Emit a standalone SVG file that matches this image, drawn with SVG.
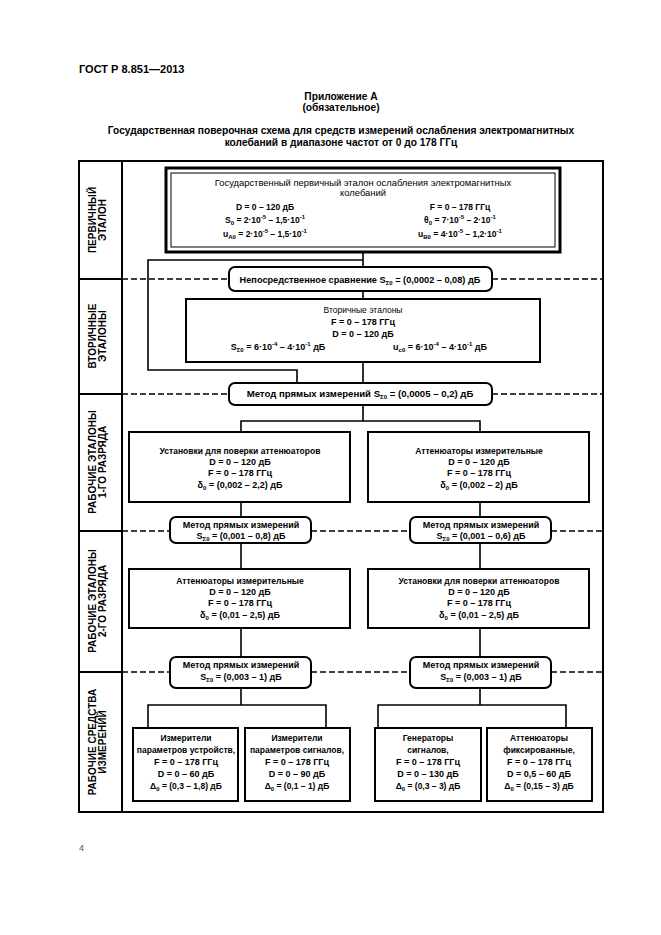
<svg xmlns="http://www.w3.org/2000/svg" width="661" height="935" viewBox="0 0 661 935">
<style>
text{font-family:"Liberation Sans",Arial,sans-serif;font-size:8.5px;fill:#000;text-anchor:middle}
.b{font-weight:bold}
.s{font-size:6px}
.m{font-weight:bold;font-size:9px}
.lbl{font-weight:bold;font-size:10px}
.box{fill:#fff;stroke:#000;stroke-width:2}
.meth{fill:#fff;stroke:#000;stroke-width:2}
.ln{fill:none;stroke:#000;stroke-width:1.6}
.dash{fill:none;stroke:#000;stroke-width:1.6;stroke-dasharray:6 3}
.frame{fill:none;stroke:#000;stroke-width:2}
.ttl{font-weight:bold;font-size:10.2px}
</style>
<rect width="661" height="935" fill="#fff"/>
<g id="header">
<text x="79" y="73" style="text-anchor:start;font-size:11px;font-weight:bold">ГОСТ Р 8.851—2013</text>
<text x="341" y="100" class="ttl">Приложение А</text>
<text x="341" y="111" class="ttl">(обязательное)</text>
<text x="341" y="134" class="ttl">Государственная поверочная схема для средств измерений ослабления электромагнитных</text>
<text x="341" y="146" class="ttl">колебаний в диапазоне частот от 0 до 178 ГГц</text>
</g>
<g id="frame">
<rect x="79" y="161" width="524" height="651" class="frame"/>
<line x1="122" y1="161" x2="122" y2="812" class="frame"/>
<path d="M79 279H122M79 394H122M79 531H122M79 672H122" class="frame"/>
<path d="M122 279H229M492 279H603M122 394H229M492 394H603M122 531H170M311 531H410M551 531H603M122 672H170M311 672H410M551 672H603" class="dash"/>
</g>
<g id="labels">
<text class="lbl" transform="translate(96,220) rotate(-90)">ПЕРВИЧНЫЙ</text>
<text class="lbl" transform="translate(106,220) rotate(-90)">ЭТАЛОН</text>
<text class="lbl" transform="translate(96,336) rotate(-90)">ВТОРИЧНЫЕ</text>
<text class="lbl" transform="translate(106,336) rotate(-90)">ЭТАЛОНЫ</text>
<text class="lbl" transform="translate(96,462) rotate(-90)">РАБОЧИЕ ЭТАЛОНЫ</text>
<text class="lbl" transform="translate(106,462) rotate(-90)">1-ГО РАЗРЯДА</text>
<text class="lbl" transform="translate(96,601) rotate(-90)">РАБОЧИЕ ЭТАЛОНЫ</text>
<text class="lbl" transform="translate(106,601) rotate(-90)">2-ГО РАЗРЯДА</text>
<text class="lbl" transform="translate(96,742) rotate(-90)">РАБОЧИЕ СРЕДСТВА</text>
<text class="lbl" transform="translate(106,742) rotate(-90)">ИЗМЕРЕНИЙ</text>
</g>
<g id="connectors">
<path class="ln" d="M363 252V267M363 260H148V370H297V383M363 291V299M363 362V383"/>
<path class="ln" d="M363 405V421M241 432V421H480V432"/>
<path class="ln" d="M241 502V517M480 502V517M241 543V569M480 543V569M241 628V657M480 628V657"/>
<path class="ln" d="M241 688V705M148 728V705H326V728M480 688V705M378 728V705H566V728"/>
</g>
<g id="primary">
<rect x="166" y="168" width="394" height="84" fill="#fff" stroke="#000" stroke-width="3"/>
<rect x="171" y="173" width="384" height="74" fill="none" stroke="#000" stroke-width="1"/>
<text x="363" y="186" style="font-size:9.4px">Государственный первичный эталон ослабления электромагнитных</text>
<text x="363" y="196" style="font-size:9.4px">колебаний</text>
<text x="265" y="210" class="b">D = 0 – 120 дБ</text>
<text x="265" y="223" class="b">S<tspan class="s" dy="2">0</tspan><tspan dy="-2"> = 2·10</tspan><tspan class="s" dy="-4">-5</tspan><tspan dy="4"> – 1,5·10</tspan><tspan class="s" dy="-4">-1</tspan></text>
<text x="265" y="237" class="b">u<tspan class="s" dy="2">A0</tspan><tspan dy="-2"> = 2·10</tspan><tspan class="s" dy="-4">-5</tspan><tspan dy="4"> – 1,5·10</tspan><tspan class="s" dy="-4">-1</tspan></text>
<text x="460" y="210" class="b">F = 0 – 178 ГГц</text>
<text x="460" y="223" class="b">θ<tspan class="s" dy="2">0</tspan><tspan dy="-2"> = 7·10</tspan><tspan class="s" dy="-4">-5</tspan><tspan dy="4"> – 2·10</tspan><tspan class="s" dy="-4">-1</tspan></text>
<text x="460" y="237" class="b">u<tspan class="s" dy="2">B0</tspan><tspan dy="-2"> = 4·10</tspan><tspan class="s" dy="-4">-5</tspan><tspan dy="4"> – 1,2·10</tspan><tspan class="s" dy="-4">-1</tspan></text>
</g>
<g id="method1">
<rect x="229" y="267" width="263" height="24" rx="6" class="meth"/>
<text x="360" y="283" class="b" style="font-size:9.2px">Непосредственное сравнение S<tspan class="s" dy="2">Σ0</tspan><tspan dy="-2"> = (0,0002 – 0,08) дБ</tspan></text>
</g>
<g id="secondary">
<rect x="186" y="299" width="354" height="63" class="box"/>
<text x="363" y="313">Вторичные эталоны</text>
<text x="363" y="325" class="m">F = 0 – 178 ГГц</text>
<text x="363" y="337" class="m">D = 0 – 120 дБ</text>
<text x="278" y="350" class="m">S<tspan class="s" dy="2">Σ0</tspan><tspan dy="-2"> = 6·10</tspan><tspan class="s" dy="-4">-4</tspan><tspan dy="4"> – 4·10</tspan><tspan class="s" dy="-4">-1</tspan><tspan dy="4"> дБ</tspan></text>
<text x="440" y="350" class="m">u<tspan class="s" dy="2">c0</tspan><tspan dy="-2"> = 6·10</tspan><tspan class="s" dy="-4">-4</tspan><tspan dy="4"> – 4·10</tspan><tspan class="s" dy="-4">-1</tspan><tspan dy="4"> дБ</tspan></text>
</g>
<g id="method2">
<rect x="229" y="383" width="263" height="22" rx="6" class="meth"/>
<text x="360" y="397" class="b" style="font-size:9.6px">Метод прямых измерений S<tspan class="s" dy="2">Σ0</tspan><tspan dy="-2"> = (0,0005 – 0,2) дБ</tspan></text>
</g>
<g id="w1-left">
<rect x="129" y="432" width="221" height="70" class="box"/>
<text x="240" y="454" class="b">Установки для поверки аттенюаторов</text>
<text x="240" y="465" class="m">D = 0 – 120 дБ</text>
<text x="240" y="476" class="m">F = 0 – 178 ГГц</text>
<text x="240" y="488" class="m">δ<tspan class="s" dy="2">0</tspan><tspan dy="-2"> = (0,002 – 2,2) дБ</tspan></text>
</g>
<g id="w1-right">
<rect x="368" y="432" width="221" height="70" class="box"/>
<text x="479" y="454" class="b">Аттенюаторы измерительные</text>
<text x="479" y="465" class="m">D = 0 – 120 дБ</text>
<text x="479" y="476" class="m">F = 0 – 178 ГГц</text>
<text x="479" y="488" class="m">δ<tspan class="s" dy="2">0</tspan><tspan dy="-2"> = (0,002 – 2) дБ</tspan></text>
</g>
<g id="method3-left">
<rect x="170" y="517" width="141" height="26" rx="6" class="meth"/>
<text x="241" y="528" class="m">Метод прямых измерений</text>
<text x="241" y="539" class="m">S<tspan class="s" dy="2">Σ0</tspan><tspan dy="-2"> = (0,001 – 0,8) дБ</tspan></text>
</g>
<g id="method3-right">
<rect x="410" y="517" width="141" height="26" rx="6" class="meth"/>
<text x="481" y="528" class="m">Метод прямых измерений</text>
<text x="481" y="539" class="m">S<tspan class="s" dy="2">Σ0</tspan><tspan dy="-2"> = (0,001 – 0,6) дБ</tspan></text>
</g>
<g id="w2-left">
<rect x="129" y="569" width="221" height="59" class="box"/>
<text x="240" y="584" class="b">Аттенюаторы измерительные</text>
<text x="240" y="595" class="m">D = 0 – 120 дБ</text>
<text x="240" y="606" class="m">F = 0 – 178 ГГц</text>
<text x="240" y="618" class="m">δ<tspan class="s" dy="2">0</tspan><tspan dy="-2"> = (0,01 – 2,5) дБ</tspan></text>
</g>
<g id="w2-right">
<rect x="368" y="569" width="221" height="59" class="box"/>
<text x="479" y="584" class="b">Установки для поверки аттенюаторов</text>
<text x="479" y="595" class="m">D = 0 – 120 дБ</text>
<text x="479" y="606" class="m">F = 0 – 178 ГГц</text>
<text x="479" y="618" class="m">δ<tspan class="s" dy="2">0</tspan><tspan dy="-2"> = (0,01 – 2,5) дБ</tspan></text>
</g>
<g id="method4-left">
<rect x="170" y="657" width="141" height="31" rx="6" class="meth"/>
<text x="241" y="668" class="m">Метод прямых измерений</text>
<text x="241" y="680" class="m">S<tspan class="s" dy="2">Σ0</tspan><tspan dy="-2"> = (0,003 – 1) дБ</tspan></text>
</g>
<g id="method4-right">
<rect x="410" y="657" width="141" height="31" rx="6" class="meth"/>
<text x="481" y="668" class="m">Метод прямых измерений</text>
<text x="481" y="680" class="m">S<tspan class="s" dy="2">Σ0</tspan><tspan dy="-2"> = (0,003 – 1) дБ</tspan></text>
</g>
<g id="m1">
<rect x="133" y="728" width="105" height="73" class="box"/>
<text x="186" y="741" class="b">Измерители</text>
<text x="186" y="753" class="b">параметров устройств,</text>
<text x="186" y="765" class="m">F = 0 – 178 ГГц</text>
<text x="186" y="777" class="m">D = 0 – 60 дБ</text>
<text x="186" y="789" class="b">Δ<tspan class="s" dy="2">0</tspan><tspan dy="-2"> = (0,3 – 1,8) дБ</tspan></text>
</g>
<g id="m2">
<rect x="245" y="728" width="105" height="73" class="box"/>
<text x="297" y="741" class="b">Измерители</text>
<text x="297" y="753" class="b">параметров сигналов,</text>
<text x="297" y="765" class="m">F = 0 – 178 ГГц</text>
<text x="297" y="777" class="m">D = 0 – 90 дБ</text>
<text x="297" y="789" class="b">Δ<tspan class="s" dy="2">0</tspan><tspan dy="-2"> = (0,1 – 1) дБ</tspan></text>
</g>
<g id="m3">
<rect x="375" y="728" width="106" height="73" class="box"/>
<text x="428" y="741" class="b">Генераторы</text>
<text x="428" y="753" class="b">сигналов,</text>
<text x="428" y="765" class="m">F = 0 – 178 ГГц</text>
<text x="428" y="777" class="m">D = 0 – 130 дБ</text>
<text x="428" y="789" class="b">Δ<tspan class="s" dy="2">0</tspan><tspan dy="-2"> = (0,3 – 3) дБ</tspan></text>
</g>
<g id="m4">
<rect x="487" y="728" width="105" height="73" class="box"/>
<text x="539" y="741" class="b">Аттенюаторы</text>
<text x="539" y="753" class="b">фиксированные,</text>
<text x="539" y="765" class="m">F = 0 – 178 ГГц</text>
<text x="539" y="777" class="m">D = 0,5 – 60 дБ</text>
<text x="539" y="789" class="b">Δ<tspan class="s" dy="2">0</tspan><tspan dy="-2"> = (0,15 – 3) дБ</tspan></text>
</g>
<text x="79" y="851" style="text-anchor:start;font-size:9px;fill:#555">4</text>
</svg>
